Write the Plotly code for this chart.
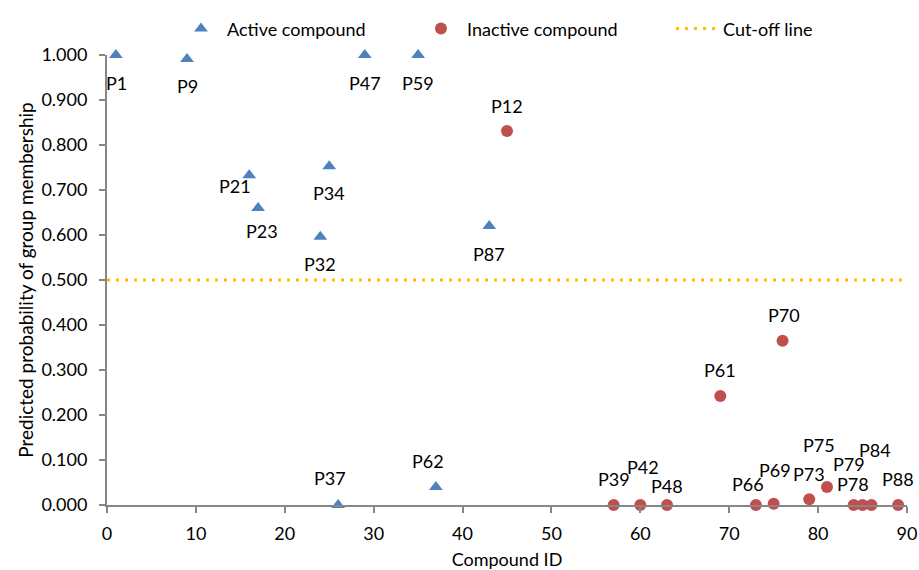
import plotly.graph_objects as go

# Active compounds
active_ids = ["P1", "P9", "P21", "P23", "P32", "P34", "P37", "P47", "P59", "P62", "P87"]
active_x = [1, 9, 16, 17, 24, 25, 26, 29, 35, 37, 43]
active_y = [1.000, 0.991, 0.733, 0.660, 0.596, 0.753, 0.000, 1.000, 1.000, 0.040, 0.620]

# Inactive compounds
inactive_ids = ["P12", "P39", "P42", "P48", "P61", "P66", "P69", "P70", "P73", "P75",
                "P78", "P79", "P84", "P88"]
inactive_x = [45, 57, 60, 63, 69, 73, 75, 76, 79, 81, 84, 85, 86, 89]
inactive_y = [0.831, 0.000, 0.000, 0.000, 0.242, 0.000, 0.003, 0.365, 0.013, 0.040,
              0.000, 0.000, 0.000, 0.000]

cutoff_x = [0, 90]
cutoff_y = [0.5, 0.5]

x_ticks = [0, 10, 20, 30, 40, 50, 60, 70, 80, 90]
y_ticks = [0.0, 0.1, 0.2, 0.3, 0.4, 0.5, 0.6, 0.7, 0.8, 0.9, 1.0]

# label offsets in pixels (dx, dy up)
label_offsets = {
    "P1": (1, -28), "P9": (0, -27), "P21": (-14, -11), "P23": (4, -23),
    "P32": (0, -27), "P34": (0, -27), "P37": (-8, 27), "P47": (0, -28),
    "P59": (0, -28), "P62": (-8, 26), "P87": (0, -28),
    "P12": (0, 25), "P39": (0, 26), "P42": (3, 38), "P48": (0, 19),
    "P61": (0, 26), "P66": (-8, 21), "P69": (1, 34), "P70": (1, 26),
    "P73": (0, 25), "P75": (-8, 42), "P78": (-1, 21), "P79": (-14, 41),
    "P84": (4, 55), "P88": (0, 26),
}

FONT = "Lato, 'Open Sans', sans-serif"
FS = 18
AXIS_COLOR = "#868686"

fig = go.Figure()
fig.add_trace(go.Scatter(
    x=active_x, y=active_y, mode="markers", name="Active compound",
    marker=dict(symbol="triangle-up", size=12, color="#4F81BD"),
    cliponaxis=False, legend="legend",
))
fig.add_trace(go.Scatter(
    x=inactive_x, y=inactive_y, mode="markers", name="Inactive compound",
    marker=dict(symbol="circle", size=12, color="#C0504D"),
    cliponaxis=False, legend="legend2",
))
fig.add_trace(go.Scatter(
    x=cutoff_x, y=cutoff_y, mode="lines", name="Cut-off line",
    line=dict(color="#FFC000", width=3, dash="3px,6px"),
    legend="legend3",
))

annotations = []
for ids, xs, ys in ((active_ids, active_x, active_y), (inactive_ids, inactive_x, inactive_y)):
    for lab, xv, yv in zip(ids, xs, ys):
        dx, dy = label_offsets[lab]
        annotations.append(dict(
            x=xv, y=yv, xref="x", yref="y", text=lab, showarrow=False,
            xshift=dx, yshift=dy, font=dict(family=FONT, size=FS, color="#000000"),
        ))

def leg(x):
    return dict(
        orientation="h", x=x, y=1.058, xanchor="left", yanchor="middle",
        font=dict(family=FONT, size=FS, color="#000000"),
        bgcolor="rgba(0,0,0,0)", itemwidth=42, borderwidth=0,
    )

fig.update_layout(
    width=919, height=570,
    margin=dict(l=107, r=12, t=55, b=65, autoexpand=False),
    paper_bgcolor="white", plot_bgcolor="white",
    font=dict(family=FONT, size=FS, color="#000000"),
    annotations=annotations,
    showlegend=True,
    legend=leg(0.085),
    legend2=leg(0.385),
    legend3=leg(0.705),
    xaxis=dict(
        range=[0, 90], tickvals=x_ticks, showgrid=False, zeroline=False,
        showline=True, linecolor=AXIS_COLOR, linewidth=2,
        ticks="outside", ticklen=6, tickcolor=AXIS_COLOR, tickwidth=1.5,
        ticklabelstandoff=5,
        title=dict(text="Compound ID", font=dict(family=FONT, size=FS), standoff=19),
        tickfont=dict(family=FONT, size=FS), automargin=False,
    ),
    yaxis=dict(
        range=[0, 1.0], tickvals=y_ticks, tickformat=".3f", showgrid=False,
        zeroline=False, showline=True, linecolor=AXIS_COLOR, linewidth=2,
        ticks="outside", ticklen=6, tickcolor=AXIS_COLOR, tickwidth=1.5,
        ticklabelstandoff=8,
        title=dict(text="Predicted probability of group membership",
                   font=dict(family=FONT, size=19), standoff=3),
        tickfont=dict(family=FONT, size=FS), automargin=False,
    ),
)

fig.write_html(
    "out.html",
    config={"displayModeBar": False},
    post_script="document.body.style.margin='0px';document.body.style.overflow='hidden';",
)
